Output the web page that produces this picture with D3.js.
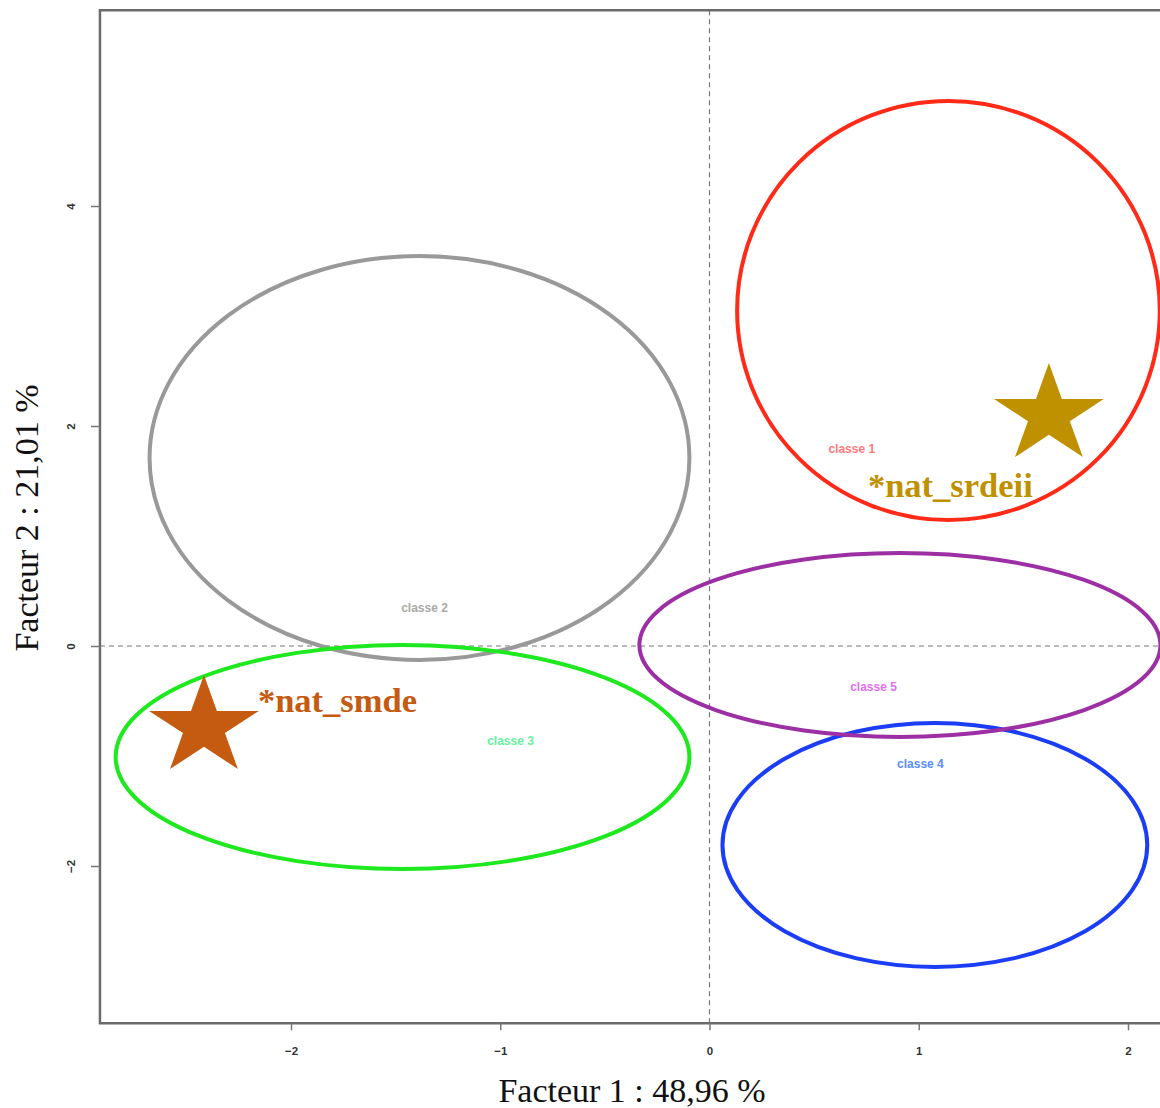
<!DOCTYPE html>
<html>
<head>
<meta charset="utf-8">
<script src="https://cdn.jsdelivr.net/npm/d3@7"></script>
<style>
  html, body { margin: 0; padding: 0; background: #fff; }
  svg { display: block; }
</style>
</head>
<body>
<div class="container"></div>
<script>
// classes : centre (x, y) and half-axes (rx, ry) in factor units
const classNames = ["classe 1", "classe 2", "classe 3", "classe 4", "classe 5"];
const classCx = [1.142, -1.386, -1.467, 1.077, 0.910];
const classCy = [3.05, 1.709, -1.009, -1.809, 0.009];
const classRx = [1.01, 1.29, 1.371, 1.015, 1.245];
const classRy = [1.905, 1.836, 1.018, 1.109, 0.836];
const labelX = [0.68, -1.362, -0.951, 1.008, 0.784];
const labelY = [1.78, 0.336, -0.873, -1.082, -0.382];

// supplementary modalities shown as stars
const starNames = ["*nat_srdeii", "*nat_smde"];
const starX = [1.622, -2.416];
const starY = [2.10, -0.736];

const xTicks = [-2, -1, 0, 1, 2];
const yTicks = [-2, 0, 2, 4];
const xLim = [-2.913, 2.3];
const yLim = [-3.43, 5.78];

const strokeColors = ["#ff2a17", "#999999", "#1ee81e", "#1a3df5", "#9b2fa3"];
const labelColors = ["#ff7a7a", "#aaaaaa", "#66f0a0", "#5a8cff", "#e070f0"];
const starColors = ["#bf9000", "#c55a11"];

const width = 1160, height = 1108;

const svg = d3.select(".container")
  .append("svg")
  .attr("width", width)
  .attr("height", height);

const xScale = d3.scaleLinear().domain([-2, 2]).range([291, 1128]);
const yScale = d3.scaleLinear().domain([-2, 4]).range([866, 206]);

const plotLeft = xScale(xLim[0]), plotRight = xScale(xLim[1]);
const plotTop = yScale(yLim[1]), plotBottom = yScale(yLim[0]);

// zero lines
svg.append("line")
  .attr("x1", xScale(0)).attr("x2", xScale(0))
  .attr("y1", plotTop).attr("y2", plotBottom)
  .attr("stroke", "#777").attr("stroke-width", 1.2)
  .attr("stroke-dasharray", "5,4");
svg.append("line")
  .attr("x1", plotLeft).attr("x2", plotRight)
  .attr("y1", yScale(0)).attr("y2", yScale(0))
  .attr("stroke", "#777").attr("stroke-width", 1.2)
  .attr("stroke-dasharray", "5,4");

// ellipses
const classes = classNames.map((name, i) => ({
  name, cx: classCx[i], cy: classCy[i], rx: classRx[i], ry: classRy[i],
  lx: labelX[i], ly: labelY[i], stroke: strokeColors[i], fill: labelColors[i]
}));

svg.append("g")
  .selectAll("ellipse")
  .data(classes)
  .enter()
  .append("ellipse")
  .attr("cx", d => xScale(d.cx))
  .attr("cy", d => yScale(d.cy))
  .attr("rx", d => xScale(d.cx + d.rx) - xScale(d.cx))
  .attr("ry", d => yScale(d.cy) - yScale(d.cy + d.ry))
  .attr("fill", "none")
  .attr("stroke", d => d.stroke)
  .attr("stroke-width", 4);

svg.append("g")
  .selectAll("text")
  .data(classes)
  .enter()
  .append("text")
  .attr("x", d => xScale(d.lx))
  .attr("y", d => yScale(d.ly))
  .attr("text-anchor", "middle")
  .attr("dominant-baseline", "middle")
  .attr("font-family", "Liberation Sans, Arial, sans-serif")
  .attr("font-size", 12)
  .attr("font-weight", "bold")
  .attr("fill", d => d.fill)
  .text(d => d.name);

// stars
const stars = starNames.map((name, i) => ({ name, x: starX[i], y: starY[i], color: starColors[i] }));
const starSym = d3.symbol().type(d3.symbolStar).size(52 * 52 / 0.8908130915292852);

svg.append("g")
  .selectAll("path")
  .data(stars)
  .enter()
  .append("path")
  .attr("d", starSym)
  .attr("transform", d => `translate(${xScale(d.x)},${yScale(d.y)}) scale(1.11,1)`)
  .attr("fill", d => d.color);

svg.append("g")
  .selectAll("text")
  .data(stars)
  .enter()
  .append("text")
  .attr("x", (d, i) => xScale(d.x) + (i === 0 ? -181 : 54))
  .attr("y", (d, i) => yScale(d.y) + (i === 0 ? 82 : -15))
  .attr("font-family", "Liberation Serif, Times New Roman, serif")
  .attr("font-weight", "bold")
  .attr("font-size", 34.5)
  .attr("fill", d => d.color)
  .text(d => d.name);

// frame (left, top, bottom; right side runs off the picture)
svg.append("path")
  .attr("d", `M${plotRight},${plotTop}H${plotLeft}V${plotBottom}H${plotRight}`)
  .attr("fill", "none")
  .attr("stroke", "#6b6b6b")
  .attr("stroke-width", 2.5);

// axes
const xAxis = d3.axisBottom(xScale).tickValues(xTicks).tickSize(7).tickPadding(17).tickFormat(d3.format("d"));
const yAxis = d3.axisLeft(yScale).tickValues(yTicks).tickSize(9).tickFormat(d3.format("d"));

const gx = svg.append("g")
  .attr("transform", `translate(0, ${plotBottom})`)
  .call(xAxis);
gx.select(".domain").remove();
gx.selectAll("line").attr("stroke", "#777").attr("stroke-width", 1.5);
gx.selectAll("text")
  .attr("font-family", "Liberation Sans, Arial, sans-serif")
  .attr("font-size", 11.5).attr("font-weight", "bold").attr("fill", "#333");

const gy = svg.append("g")
  .attr("transform", `translate(${plotLeft}, 0)`)
  .call(yAxis);
gy.select(".domain").remove();
gy.selectAll("line").attr("stroke", "#777").attr("stroke-width", 1.5);
gy.selectAll("text")
  .attr("x", 0).attr("dy", null)
  .attr("transform", "translate(-28,0) rotate(-90)")
  .attr("text-anchor", "middle")
  .attr("dominant-baseline", "middle")
  .attr("font-family", "Liberation Sans, Arial, sans-serif")
  .attr("font-size", 11.5).attr("font-weight", "bold").attr("fill", "#333");

// axis titles
svg.append("text")
  .attr("x", 632).attr("y", 1102)
  .attr("text-anchor", "middle")
  .attr("font-family", "Liberation Serif, Times New Roman, serif")
  .attr("font-size", 34).attr("fill", "#111")
  .text("Facteur 1 : 48,96 %");

svg.append("text")
  .attr("transform", "translate(38, 518) rotate(-90)")
  .attr("text-anchor", "middle")
  .attr("font-family", "Liberation Serif, Times New Roman, serif")
  .attr("font-size", 34).attr("fill", "#111")
  .text("Facteur 2 : 21,01 %");
</script>
</body>
</html>
